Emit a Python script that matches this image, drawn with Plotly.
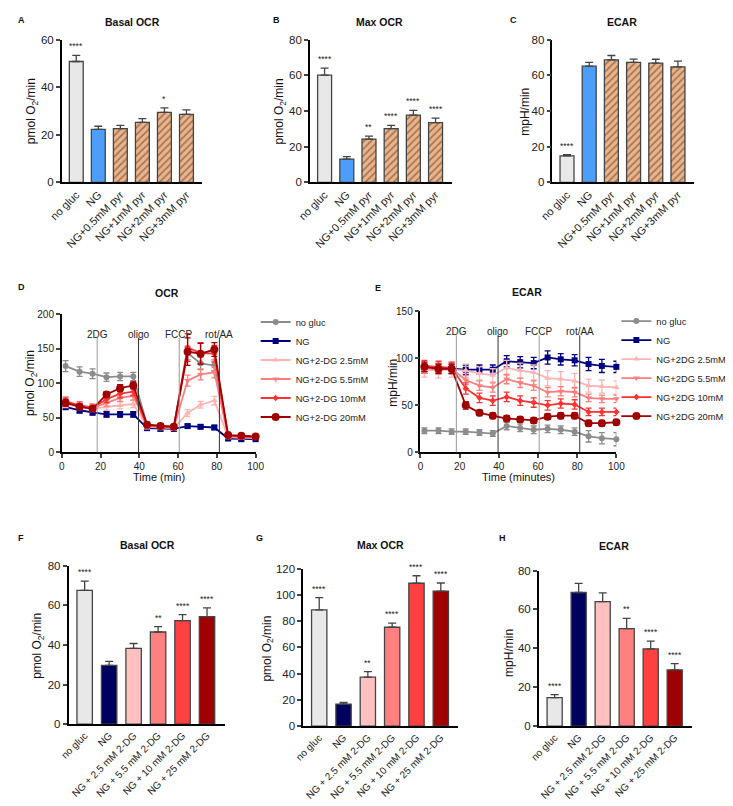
import plotly.graph_objects as go

# reference canvas is 733x806; the page body adds an 8 px margin, so the figure is 8 px smaller
W, H = 733, 806
OFF = 8
FW, FH = W - OFF, H - OFF
FONT = "Liberation Sans, Arial, sans-serif"

# ---- panels A-C (pyruvate) ----
pyr_groups = ["no gluc", "NG", "NG+0.5mM pyr", "NG+1mM pyr", "NG+2mM pyr", "NG+3mM pyr"]
pyr_basal_ocr = [50.8, 22.3, 22.6, 25.2, 29.4, 28.6]
pyr_basal_err = [2.6, 1.3, 1.4, 1.6, 1.9, 1.9]
pyr_basal_sig = ["****", "", "", "", "*", ""]
pyr_max_ocr = [60.1, 13.1, 24.3, 30.1, 37.7, 33.5]
pyr_max_err = [3.9, 1.4, 1.6, 1.9, 2.7, 2.5]
pyr_max_sig = ["****", "", "**", "****", "****", "****"]
pyr_ecar = [14.9, 65.1, 68.6, 67.3, 66.8, 64.7]
pyr_ecar_err = [0.7, 2.2, 2.5, 1.8, 2.2, 3.3]
pyr_ecar_sig = ["****", "", "", "", "", ""]

# ---- panels D-E (time courses) ----
time_min = [2.0, 9.2, 15.9, 23.1, 30.1, 36.9, 44.0, 50.9, 57.8, 64.9, 71.6, 78.7, 85.8, 92.6, 100.0]
injections = ["2DG", "oligo", "FCCP", "rot/AA"]
injection_min = [18.3, 39.6, 60.6, 81.3]

ocr_names = ["no gluc", "NG", "NG+2-DG 2.5mM", "NG+2-DG 5.5mM", "NG+2-DG 10mM", "NG+2-DG 20mM"]
ocr_no_gluc = [125, 117, 114, 109, 110, 110, 40, 38, 38, 144, 129, 126, 24, 22, 22]
ocr_no_gluc_err = [8, 7, 7, 6, 6, 6, 4, 3, 3, 10, 9, 8, 3, 3, 3]
ocr_ng = [66, 61, 58, 55, 55, 55, 35, 34, 34, 38, 37, 36, 20, 19, 19]
ocr_ng_err = [4, 4, 4, 4, 4, 4, 3, 3, 3, 3, 3, 3, 2, 2, 2]
ocr_dg25 = [70, 66, 63, 66, 68, 70, 37, 36, 35, 57, 69, 75, 22, 21, 21]
ocr_dg25_err = [5, 4, 4, 5, 5, 5, 3, 3, 3, 5, 5, 6, 2, 2, 2]
ocr_dg55 = [72, 67, 64, 72, 79, 82, 38, 37, 36, 104, 113, 116, 23, 22, 22]
ocr_dg55_err = [5, 4, 4, 5, 5, 6, 3, 3, 3, 8, 8, 8, 2, 2, 2]
ocr_dg10 = [74, 68, 65, 77, 85, 88, 39, 37, 36, 152, 144, 143, 24, 23, 22]
ocr_dg10_err = [6, 5, 5, 5, 6, 6, 3, 3, 3, 20, 15, 12, 3, 3, 3]
ocr_dg20 = [72, 66, 63, 84, 93, 97, 40, 38, 37, 146, 143, 149, 25, 24, 23]
ocr_dg20_err = [5, 4, 4, 4, 5, 5, 3, 3, 3, 20, 15, 10, 3, 3, 3]

ecar_names = ["no gluc", "NG", "NG+2DG 2.5mM", "NG+2DG 5.5mM", "NG+2DG 10mM", "NG+2DG 20mM"]
ecar_no_gluc = [23, 23, 22, 22, 21, 20, 28, 26, 24, 25, 24, 22, 17, 15, 14]
ecar_no_gluc_err = [3, 3, 3, 3, 3, 3, 4, 4, 4, 4, 4, 4, 6, 6, 7]
ecar_ng = [89, 89, 89, 88, 88, 88, 97, 96, 95, 101, 99, 98, 94, 92, 91]
ecar_ng_err = [5, 5, 5, 5, 5, 5, 6, 6, 6, 7, 6, 6, 7, 7, 6]
ecar_dg25 = [88, 87, 88, 87, 84, 82, 90, 87, 85, 79, 78, 76, 71, 70, 69]
ecar_dg25_err = [8, 8, 8, 7, 7, 7, 8, 8, 8, 8, 8, 8, 7, 7, 7]
ecar_dg55 = [90, 89, 89, 77, 71, 69, 78, 74, 71, 64, 65, 64, 58, 57, 57]
ecar_dg55_err = [6, 6, 6, 5, 5, 5, 5, 5, 5, 5, 5, 5, 4, 4, 4]
ecar_dg10 = [92, 91, 90, 68, 58, 55, 59, 55, 53, 50, 52, 51, 43, 43, 43]
ecar_dg10_err = [6, 6, 6, 6, 5, 5, 5, 5, 5, 5, 5, 5, 4, 4, 4]
ecar_dg20 = [91, 89, 89, 50, 42, 39, 36, 35, 34, 38, 39, 39, 31, 31, 32]
ecar_dg20_err = [5, 5, 5, 4, 3, 3, 3, 3, 3, 3, 3, 3, 3, 3, 3]

# ---- panels F-H (2-DG) ----
dg_groups = ["no gluc", "NG", "NG + 2.5 mM 2-DG", "NG + 5.5 mM 2-DG", "NG + 10 mM 2-DG", "NG + 25 mM 2-DG"]
dg_basal_ocr = [67.5, 29.7, 38.2, 46.5, 52.2, 54.2]
dg_basal_err = [4.7, 2.0, 2.5, 2.7, 3.1, 4.5]
dg_basal_sig = ["****", "", "", "**", "****", "****"]
dg_max_ocr = [88.5, 16.8, 37.3, 75.3, 108.8, 102.8]
dg_max_err = [9.3, 1.2, 4.2, 3.2, 5.7, 6.2]
dg_max_sig = ["****", "", "**", "****", "****", "****"]
dg_ecar = [14.7, 68.7, 64.0, 50.1, 39.7, 28.9]
dg_ecar_err = [1.5, 4.7, 4.5, 5.3, 4.0, 3.2]
dg_ecar_sig = ["****", "", "", "**", "****", "****"]

line_colors = ["#8c8c8c", "#00007f", "#ffb4b4", "#ff7f7f", "#ff3232", "#a00000"]
line_symbols = ["circle", "square", "triangle-up", "triangle-down", "diamond", "circle"]
line_sizes = [6, 6, 6, 6, 5, 8]
pyr_colors = ["#e8e8e8", "#4d9dfb", "#f2b384", "#f2b384", "#f2b384", "#f2b384"]
dg_colors = ["#e8e8e8", "#00005e", "#ffc0c0", "#ff8080", "#ff4040", "#a00000"]


def px(x):
    return (x - OFF) / FW


def py(y):
    return 1 - (y - OFF) / FH


def xdom(x0, x1):
    return [px(x0), px(x1)]


def ydom(ytop, ybot):
    return [py(ybot), py(ytop)]


fig = go.Figure()
annotations = []
shapes = []

axis_common = dict(showline=True, linecolor="black", linewidth=1.5, showgrid=False,
                   zeroline=False, tickfont=dict(size=11.5, family=FONT, color="#222"))


def bar_panel(n, groups, vals, errs, sigs, colors, hatch, ymax, ystep, dom, xfont):
    xa, ya = ("x" if n == 1 else f"x{n}"), ("y" if n == 1 else f"y{n}")
    pattern = None
    if hatch:
        pattern = dict(shape=["", ""] + ["/"] * (len(groups) - 2), fillmode="overlay",
                       fgcolor="#8aa5e6", size=5, solidity=0.35)
    fig.add_trace(go.Bar(
        x=groups, y=vals, xaxis=xa, yaxis=ya, width=0.63, showlegend=False,
        marker=dict(color=colors, line=dict(color="#444", width=1.3), pattern=pattern),
        error_y=dict(type="data", array=errs, arrayminus=[0] * len(errs), symmetric=False,
                     color="#444", thickness=1.3, width=4),
    ))
    for g, v, e, s in zip(groups, vals, errs, sigs):
        if s:
            annotations.append(dict(x=g, y=v + e, xref=xa, yref=ya, text=s, showarrow=False,
                                    yanchor="bottom", yshift=2,
                                    font=dict(size=8.5, family=FONT, color="#222")))
    key = "" if n == 1 else str(n)
    fig.layout[f"xaxis{key}"] = dict(axis_common, domain=xdom(*dom[:2]), anchor=ya,
                                     type="category", range=[-0.66, 5.72], ticks="",
                                     tickangle=-45, tickfont=dict(size=xfont, family=FONT, color="#222"))
    fig.layout[f"yaxis{key}"] = dict(axis_common, domain=ydom(*dom[2:]), anchor=xa,
                                     range=[0, ymax], ticks="outside", ticklen=4, tickwidth=1.5,
                                     tickvals=list(range(0, ymax + 1, ystep)))


bar_panel(1, pyr_groups, pyr_basal_ocr, pyr_basal_err, pyr_basal_sig, pyr_colors, True, 60, 20, (50, 195, 34, 179), 11)
bar_panel(2, pyr_groups, pyr_max_ocr, pyr_max_err, pyr_max_sig, pyr_colors, True, 80, 20, (306, 452, 34, 179), 11)
bar_panel(3, pyr_groups, pyr_ecar, pyr_ecar_err, pyr_ecar_sig, pyr_colors, True, 80, 20, (556, 702, 34, 179), 11)
bar_panel(6, dg_groups, dg_basal_ocr, dg_basal_err, dg_basal_sig, dg_colors, False, 80, 20, (57, 218, 568, 729), 10)
bar_panel(7, dg_groups, dg_max_ocr, dg_max_err, dg_max_sig, dg_colors, False, 120, 20, (299, 459, 571, 731), 10)
bar_panel(8, dg_groups, dg_ecar, dg_ecar_err, dg_ecar_sig, dg_colors, False, 80, 20, (542, 700, 573, 731), 10)


def line_panel(n, names, series, errs, ymax, ystep, dom, legend):
    xa, ya = f"x{n}", f"y{n}"
    for i, (nm, s, e) in enumerate(zip(names, series, errs)):
        fig.add_trace(go.Scatter(
            x=time_min, y=s, name=nm, xaxis=xa, yaxis=ya, mode="lines+markers", legend=legend,
            cliponaxis=False,
            line=dict(color=line_colors[i], width=1.8),
            marker=dict(symbol=line_symbols[i], size=line_sizes[i], color=line_colors[i]),
            error_y=dict(type="data", array=e, color=line_colors[i], thickness=1.3, width=3),
        ))
    for k, (lab, t) in enumerate(zip(injections, injection_min)):
        shapes.append(dict(type="line", xref=xa, yref=f"{ya} domain", x0=t, x1=t, y0=0, y1=0.83,
                           line=dict(color="#999" if k % 2 == 0 else "#333", width=1)))
        annotations.append(dict(x=t, y=0.91, xref=xa, yref=f"{ya} domain", text=lab, showarrow=False,
                                font=dict(size=10, family=FONT, color="#222")))
    fig.layout[f"xaxis{n}"] = dict(axis_common, domain=xdom(*dom[:2]), anchor=ya, range=[0, 100],
                                   ticks="outside", ticklen=4, tickwidth=1.5,
                                   tickvals=[0, 20, 40, 60, 80, 100],
                                   tickfont=dict(size=10, family=FONT, color="#222"))
    fig.layout[f"yaxis{n}"] = dict(axis_common, domain=ydom(*dom[2:]), anchor=xa, range=[0, ymax],
                                   ticks="outside", ticklen=4, tickwidth=1.5,
                                   tickvals=list(range(0, ymax + 1, ystep)),
                                   tickfont=dict(size=10, family=FONT, color="#222"))


line_panel(4, ocr_names, [ocr_no_gluc, ocr_ng, ocr_dg25, ocr_dg55, ocr_dg10, ocr_dg20],
           [ocr_no_gluc_err, ocr_ng_err, ocr_dg25_err, ocr_dg55_err, ocr_dg10_err, ocr_dg20_err],
           200, 50, (50, 250, 313, 453), "legend")
line_panel(5, ecar_names, [ecar_no_gluc, ecar_ng, ecar_dg25, ecar_dg55, ecar_dg10, ecar_dg20],
           [ecar_no_gluc_err, ecar_ng_err, ecar_dg25_err, ecar_dg55_err, ecar_dg10_err, ecar_dg20_err],
           150, 50, (420, 622, 310, 453), "legend2")


def text(x, y, s, size=11, bold=False, angle=0):
    annotations.append(dict(x=px(x), y=py(y), xref="paper", yref="paper", text=f"<b>{s}</b>" if bold else s,
                            showarrow=False, textangle=angle, xanchor="center", yanchor="middle",
                            font=dict(size=size, family=FONT, color="#111")))


# panel letters and titles
for lab, x, y in [("A", 8, 14), ("B", 271, 14), ("C", 516, 14), ("D", 8, 285), ("E", 376, 286),
                  ("F", 8, 540), ("G", 254, 540), ("H", 505, 540)]:
    text(x, y, lab, size=9, bold=True)
for t, x, y in [("Basal OCR", 123, 16), ("Max OCR", 378, 16), ("ECAR", 628, 16),
                ("OCR", 159, 291), ("ECAR", 530, 290),
                ("Basal OCR", 138, 547), ("Max OCR", 379, 547), ("ECAR", 620, 548)]:
    text(x, y, t, size=10.5, bold=True)

# axis titles
ocr_unit = "pmol O<sub>2</sub>/min"
for t, x, y in [(ocr_unit, 19, 107), (ocr_unit, 275, 107), ("mpH/min", 527, 107),
                (ocr_unit, 19, 383), ("mpH/min", 392, 382),
                (ocr_unit, 26, 649), (ocr_unit, 263, 652), ("mpH/min", 512, 657)]:
    text(x, y, t, size=12, angle=-90)
text(150, 478, "Time (min)", size=11)
text(521, 478, "Time (minutes)", size=11)

legend_style = dict(font=dict(size=9.3, family=FONT, color="#222"), bgcolor="rgba(0,0,0,0)",
                    xanchor="left", yanchor="top", itemclick=False, tracegroupgap=0)
fig.update_layout(
    width=FW, height=FH, margin=dict(l=0, r=0, t=0, b=0),
    paper_bgcolor="white", plot_bgcolor="white",
    font=dict(family=FONT, color="#222"),
    annotations=annotations, shapes=shapes,
    legend=dict(legend_style, x=px(250), y=py(306)),
    legend2=dict(legend_style, x=px(622), y=py(305)),
)

fig.write_html("out.html")
